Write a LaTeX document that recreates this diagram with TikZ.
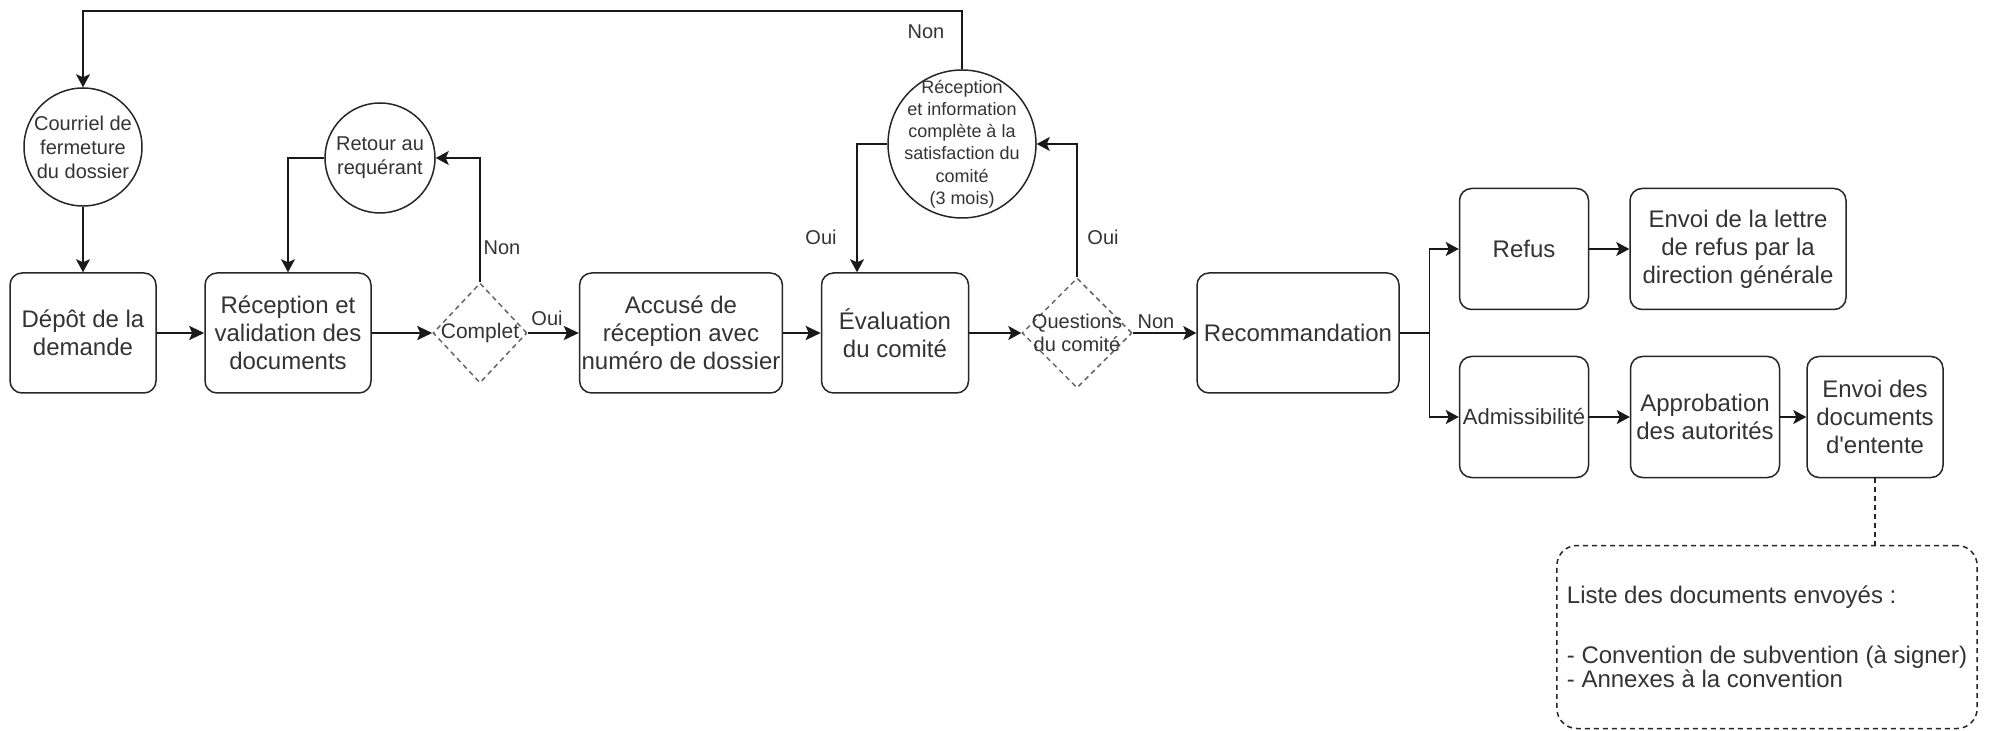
\documentclass[tikz,border=0pt]{standalone}
\usepackage{fontspec}
\setmainfont{Liberation Sans}[Ligatures=TeXOff]
\usepackage{tikz}
\usetikzlibrary{positioning,shapes.geometric,arrows.meta}

\tikzset{
  etape/.style={draw=black!85, line width=0.75pt, rounded corners=6pt, align=center, inner sep=1pt, text=black!80, font=\fontsize{12}{14}\selectfont, minimum height=60pt},
  rond/.style={draw=black!85, line width=0.75pt, circle, inner sep=0pt},
  choix/.style={draw=black!60, line width=0.75pt, dash pattern=on 2.5pt off 2pt, diamond, aspect=1, inner sep=0pt},
  petit/.style={align=center, inner sep=0pt, text=black!80, font=\fontsize{10}{12}\selectfont},
  etiq/.style={inner sep=1pt, text=black!80, font=\fontsize{10}{12}\selectfont},
  fleche/.style={draw=black!90, line width=0.7pt, -{Stealth[length=6.5pt,width=7pt,inset=1.5pt]}},
  grosse/.style={draw=black!90, line width=1.2pt, -{Stealth[length=7.5pt,width=7pt,inset=1.5pt]}},
  pointille/.style={draw=black!85, line width=0.75pt, dash pattern=on 2.5pt off 2pt}
}

\begin{document}
\begin{tikzpicture}[x=0.5pt,y=-0.5pt]
\useasboundingbox (0,0) rectangle (1989,731);

\node[rond, minimum size=59pt, label={[petit]center:Courriel de\\fermeture\\du dossier}] (courriel) at (83,147) {};
\node[rond, minimum size=55pt, label={[petit]center:Retour au\\requérant}] (retour) at (380,158) {};
\node[rond, minimum size=74pt, label={[petit, font=\fontsize{9}{11.1}\selectfont]center:Réception\\et information\\complète à la\\satisfaction du\\comité\\(3 mois)}] (infocomp) at (962,144) {};

\node[etape, minimum width=73pt] (depot) at (83,333) {Dépôt de la\\demande};
\node[etape, minimum width=83pt] (recep) at (288,333) {Réception et\\validation des\\documents};
\node[choix, minimum width=47pt, minimum height=50pt, label={[petit, font=\fontsize{10.5}{12}\selectfont]center:Complet}] (complet) at (480,333) {};
\node[etape, minimum width=101pt] (accuse) at (681,333) {Accusé de\\réception avec\\numéro de dossier};
\node[etape, minimum width=73.5pt] (evalu) at (895,333) {Évaluation\\du comité};
\node[choix, minimum width=55pt, minimum height=55pt, label={[petit, font=\fontsize{10}{11.5}\selectfont]center:Questions\\du comité}] (questions) at (1077,333) {};
\node[etape, minimum width=101pt] (recomm) at (1298,333) {Recommandation};

\node[etape, minimum width=64.5pt, minimum height=60.5pt] (refus) at (1524,249) {Refus};
\node[etape, minimum width=108pt, minimum height=60.5pt] (lettre) at (1738,249) {Envoi de la lettre\\de refus par la\\direction générale};
\node[etape, minimum width=64.5pt, minimum height=60.5pt, font=\fontsize{11}{13}\selectfont] (admis) at (1524,417) {Admissibilité};
\node[etape, minimum width=74.5pt, minimum height=60.5pt] (approb) at (1705,417) {Approbation\\des autorités};
\node[etape, minimum width=68pt, minimum height=60.5pt] (envoidoc) at (1875,417) {Envoi des\\documents\\d'entente};

\node[pointille, rounded corners=10pt, align=left, inner xsep=5pt, minimum width=210pt, minimum height=91.5pt, text=black!80, font=\fontsize{12}{12}\selectfont] (liste) at (1767,637) {Liste des documents envoyés :\\[18pt]- Convention de subvention (à signer)\\- Annexes à la convention};

\coordinate (coin) at (83,11);

\draw[fleche] (infocomp.north) |- (coin) -- (courriel.north);
\draw[fleche] (courriel) -- (depot);
\draw[grosse] (depot) -- (recep);
\draw[grosse] (recep) -- (complet);
\draw[grosse] (complet) -- (accuse);
\draw[fleche] (complet.north) |- (retour.east);
\draw[fleche] (retour.west) -| (recep.north);
\draw[grosse] (accuse) -- (evalu);
\draw[fleche] (evalu) -- (questions);
\draw[fleche] (questions) -- (recomm);
\draw[fleche] (questions.north) |- (infocomp.east);
\draw[fleche] (infocomp.west) -| (evalu.122);
\draw[fleche] (recomm.east) -- ++(30,0) |- (refus.west);
\draw[fleche] (recomm.east) -- ++(30,0) |- (admis.west);
\draw[fleche] (refus) -- (lettre);
\draw[fleche] (admis) -- (approb);
\draw[fleche] (approb) -- (envoidoc);
\draw[pointille] (envoidoc.south) -- (envoidoc.south |- liste.north);

\node[etiq] (nonhaut) at (926,32) {Non};
\node[etiq] (noncomplet) at (502,248) {Non};
\node[etiq] (ouicomplet) at (547,318) {Oui};
\node[etiq] (ouieval) at (821,237) {Oui};
\node[etiq] (ouiquest) at (1103,237) {Oui};
\node[etiq] (nonquest) at (1156,322) {Non};

\end{tikzpicture}
\end{document}
